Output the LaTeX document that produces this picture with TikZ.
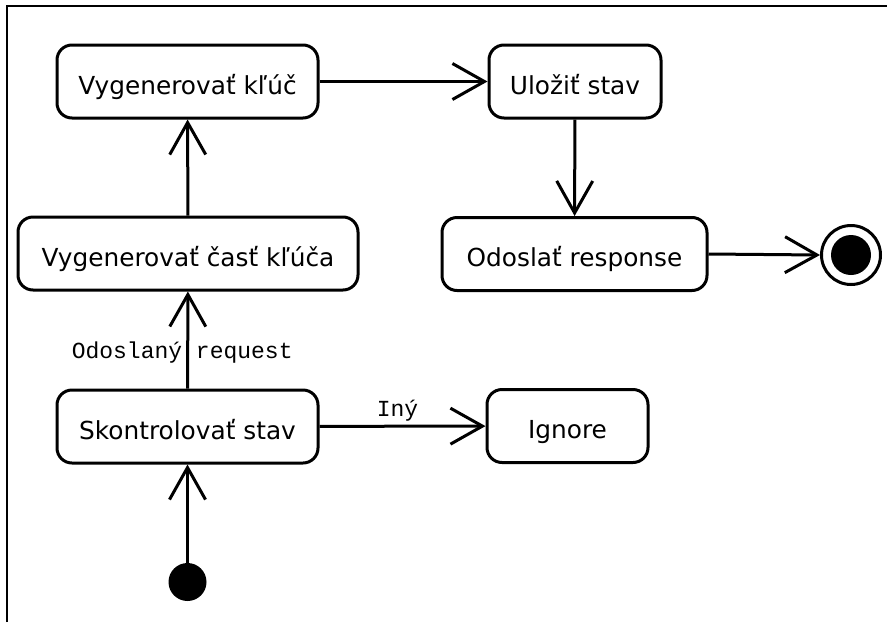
\documentclass[tikz,border=0pt]{standalone}
\usepackage{fontspec}
\setmainfont{DejaVu Sans}
\newfontfamily\guardfont{Liberation Mono}
\usetikzlibrary{arrows.meta}
\begin{document}
\begin{tikzpicture}[x=1pt,y=-1pt,
  action/.style={draw, line width=3pt, rounded corners=15pt, minimum height=73pt,
    inner sep=0pt, text height=25pt, text depth=0pt,
    font=\fontsize{24.8}{28}\selectfont},
  flow/.style={line width=3pt, -{Straight Barb[length=32pt,width=36pt,line width=3pt]}},
  guard/.style={font=\guardfont\fontsize{23}{26}\selectfont, inner sep=0pt}]
  \useasboundingbox (0,0) rectangle (887,622);
  % frame
  \draw[line width=2pt] (7,622) -- (7,6) -- (887,6);

  % actions
  \node[action, minimum width=261pt] (gen)    at (187.5,81.5) {Vygenerovať kľúč};
  \node[action, minimum width=172pt] (save)   at (575,81.5)   {Uložiť stav};
  \node[action, minimum width=265pt] (send)   at (574.5,254)  {Odoslať response};
  \node[action, minimum width=340pt] (part)   at (188,253.5)  {Vygenerovať časť kľúča};
  \node[action, minimum width=261pt] (check)  at (187.5,426.5){Skontrolovať stav};
  \node[action, minimum width=161pt] (ignore) at (567.5,426)  {Ignore};

  % initial and final states
  \node[circle, fill=black, minimum size=38pt, inner sep=0pt] (start) at (187.5,582) {};
  \node[circle, draw, line width=3pt, minimum size=59pt, inner sep=0pt] (end) at (851,255) {};
  \node[circle, fill=black, minimum size=40pt, inner sep=0pt] at (end.center) {};

  % transitions
  \draw[flow] (start) -- (check);
  \draw[flow] (check) -- node[guard, pos=0.37, xshift=-5.5pt] {Odoslaný request} (part);
  \draw[flow] (part) -- (gen);
  \draw[flow] (gen) -- (save);
  \draw[flow] (save) -- (send);
  \draw[flow] (send.east) -- (end.west);
  \draw[flow] (check) -- node[guard, anchor=base, pos=0.47, yshift=10pt] {Iný} (ignore);
\end{tikzpicture}
\end{document}
